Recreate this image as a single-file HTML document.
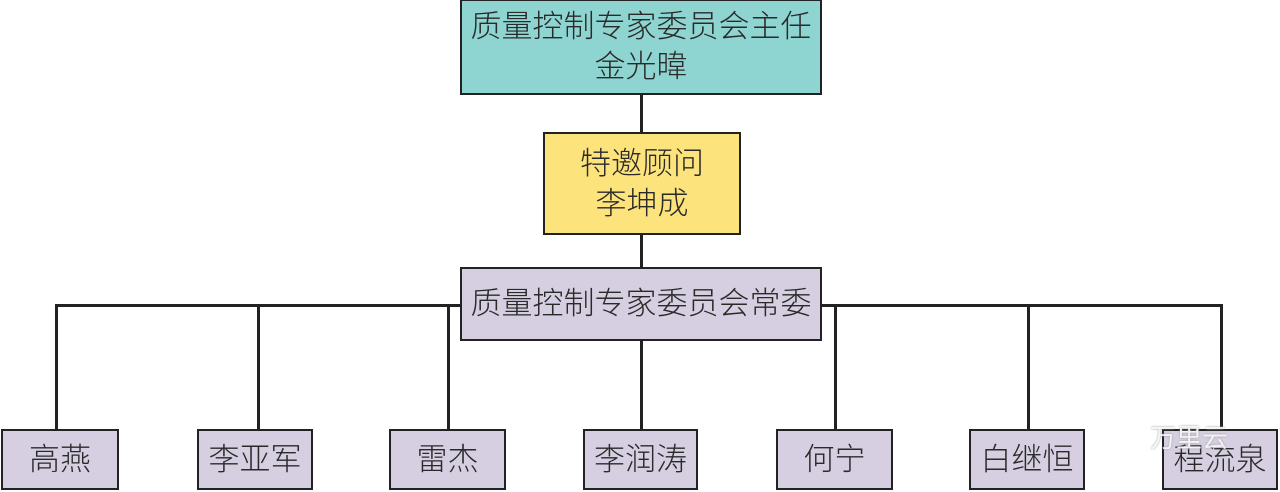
<!DOCTYPE html>
<html><head><meta charset="utf-8"><style>
html,body{margin:0;padding:0;background:#fff;}
body{width:1280px;height:492px;position:relative;overflow:hidden;font-family:"Liberation Sans","Noto Sans CJK SC",sans-serif;color:#2a2a2a;}
.b{position:absolute;box-sizing:border-box;border:2.5px solid #222;display:flex;flex-direction:column;align-items:center;justify-content:center;font-size:31px;line-height:40px;font-weight:300;}
.p{background:#d6cfe1;}
.l{position:absolute;background:#222;}
</style></head><body>
<div class="l" style="left:640px;top:92px;width:2.5px;height:45px"></div>
<div class="l" style="left:640px;top:232px;width:2.5px;height:40px"></div>
<div class="l" style="left:640px;top:338px;width:2.5px;height:94px"></div>
<div class="l" style="left:55px;top:304px;width:1168px;height:2.5px"></div>
<div class="l" style="left:55px;top:304px;width:2.5px;height:128px"></div>
<div class="l" style="left:257px;top:304px;width:2.5px;height:128px"></div>
<div class="l" style="left:447px;top:304px;width:2.5px;height:128px"></div>
<div class="l" style="left:834px;top:304px;width:2.5px;height:128px"></div>
<div class="l" style="left:1027px;top:304px;width:2.5px;height:128px"></div>
<div class="l" style="left:1220px;top:304px;width:2.5px;height:128px"></div>

<div class="b" style="left:460px;top:-1px;width:362px;height:96px;background:#8ed4d1"><div>质量控制专家委员会主任</div><div>金光暐</div></div>
<div class="b" style="left:543px;top:132px;width:198px;height:103px;background:#fde37c"><div>特邀顾问</div><div>李坤成</div></div>
<div class="b p" style="left:460px;top:267px;width:362px;height:74px">质量控制专家委员会常委</div>

<div class="b p" style="left:1px;top:429px;width:118px;height:61px">高燕</div>
<div class="b p" style="left:197px;top:429px;width:116px;height:61px">李亚军</div>
<div class="b p" style="left:389px;top:429px;width:117px;height:61px">雷杰</div>
<div class="b p" style="left:583px;top:429px;width:115px;height:61px">李润涛</div>
<div class="b p" style="left:776px;top:429px;width:117px;height:61px">何宁</div>
<div class="b p" style="left:969px;top:429px;width:116px;height:61px">白继恒</div>
<div class="b p" style="left:1162px;top:429px;width:116px;height:61px">程流泉</div>
<div style="position:absolute;left:1150px;top:418px;font-size:26px;color:rgba(255,255,255,0.85);text-shadow:0 0 2px #999">万里云</div>
</body></html>
